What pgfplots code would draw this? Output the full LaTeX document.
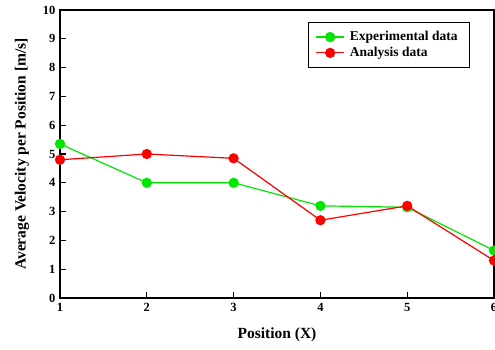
\documentclass[border=0pt]{standalone}
\usepackage{pgfplots}
\pgfplotsset{compat=1.18}
\usepackage{fontspec}
\setmainfont{Liberation Serif}
\begin{document}
\begin{tikzpicture}
\begin{axis}[
  at={(0,0)}, anchor=south west,
  scale only axis, width=434pt, height=288pt,
  xmin=1, xmax=6, ymin=0, ymax=10,
  xtick={1,...,6}, ytick={0,...,10},
  tick pos=left, tick align=inside,
  major tick length=6pt,
  axis line style={line width=1.3pt},
  every tick/.style={black, line width=1.2pt},
  xticklabel={\textbf{\pgfmathprintnumber[assume math mode=true]{\tick}}},
  yticklabel={\textbf{\pgfmathprintnumber[assume math mode=true]{\tick}}},
  ticklabel style={font=\fontsize{12.5}{14}\selectfont\bfseries},
  xticklabel style={yshift=-2pt},
  yticklabel style={xshift=-1pt},
  xlabel={Position (X)},
  ylabel={Average Velocity per Position [m/s]},
  label style={font=\fontsize{15.5}{18}\selectfont\bfseries},
  xlabel style={yshift=-9pt},
  ylabel style={yshift=7pt},
  clip=false,
  legend cell align=left,
  legend style={at={(rel axis cs:0.571,0.958)}, anchor=north west,
    draw=black, line width=1pt, font=\fontsize{13.5}{16}\selectfont\bfseries,
    inner xsep=7pt, inner ysep=7pt, row sep=1pt,
    nodes={inner xsep=5pt}},
  legend image code/.code={
    \draw[mark repeat=2,mark phase=2] plot coordinates {(0cm,0cm) (0.5cm,0cm) (1.0cm,0cm)};},
]
\addplot[color={rgb,255:red,0;green,230;blue,0}, line width=1.2pt, mark=*, mark size=4.5pt,
  mark options={fill={rgb,255:red,0;green,230;blue,0}, draw=none}]
  coordinates {(1,5.35) (2,4.0) (3,4.0) (4,3.2) (5,3.15) (6,1.65)};
\addlegendentry{Experimental data}
\addplot[color=red, line width=1.2pt, mark=*, mark size=4.5pt,
  mark options={fill=red, draw=none}]
  coordinates {(1,4.8) (2,5.0) (3,4.85) (4,2.7) (5,3.2) (6,1.3)};
\addlegendentry{Analysis data}
\end{axis}
\pgfresetboundingbox
\useasboundingbox (-60pt,-52pt) rectangle (435pt,298pt);
\end{tikzpicture}
\end{document}
